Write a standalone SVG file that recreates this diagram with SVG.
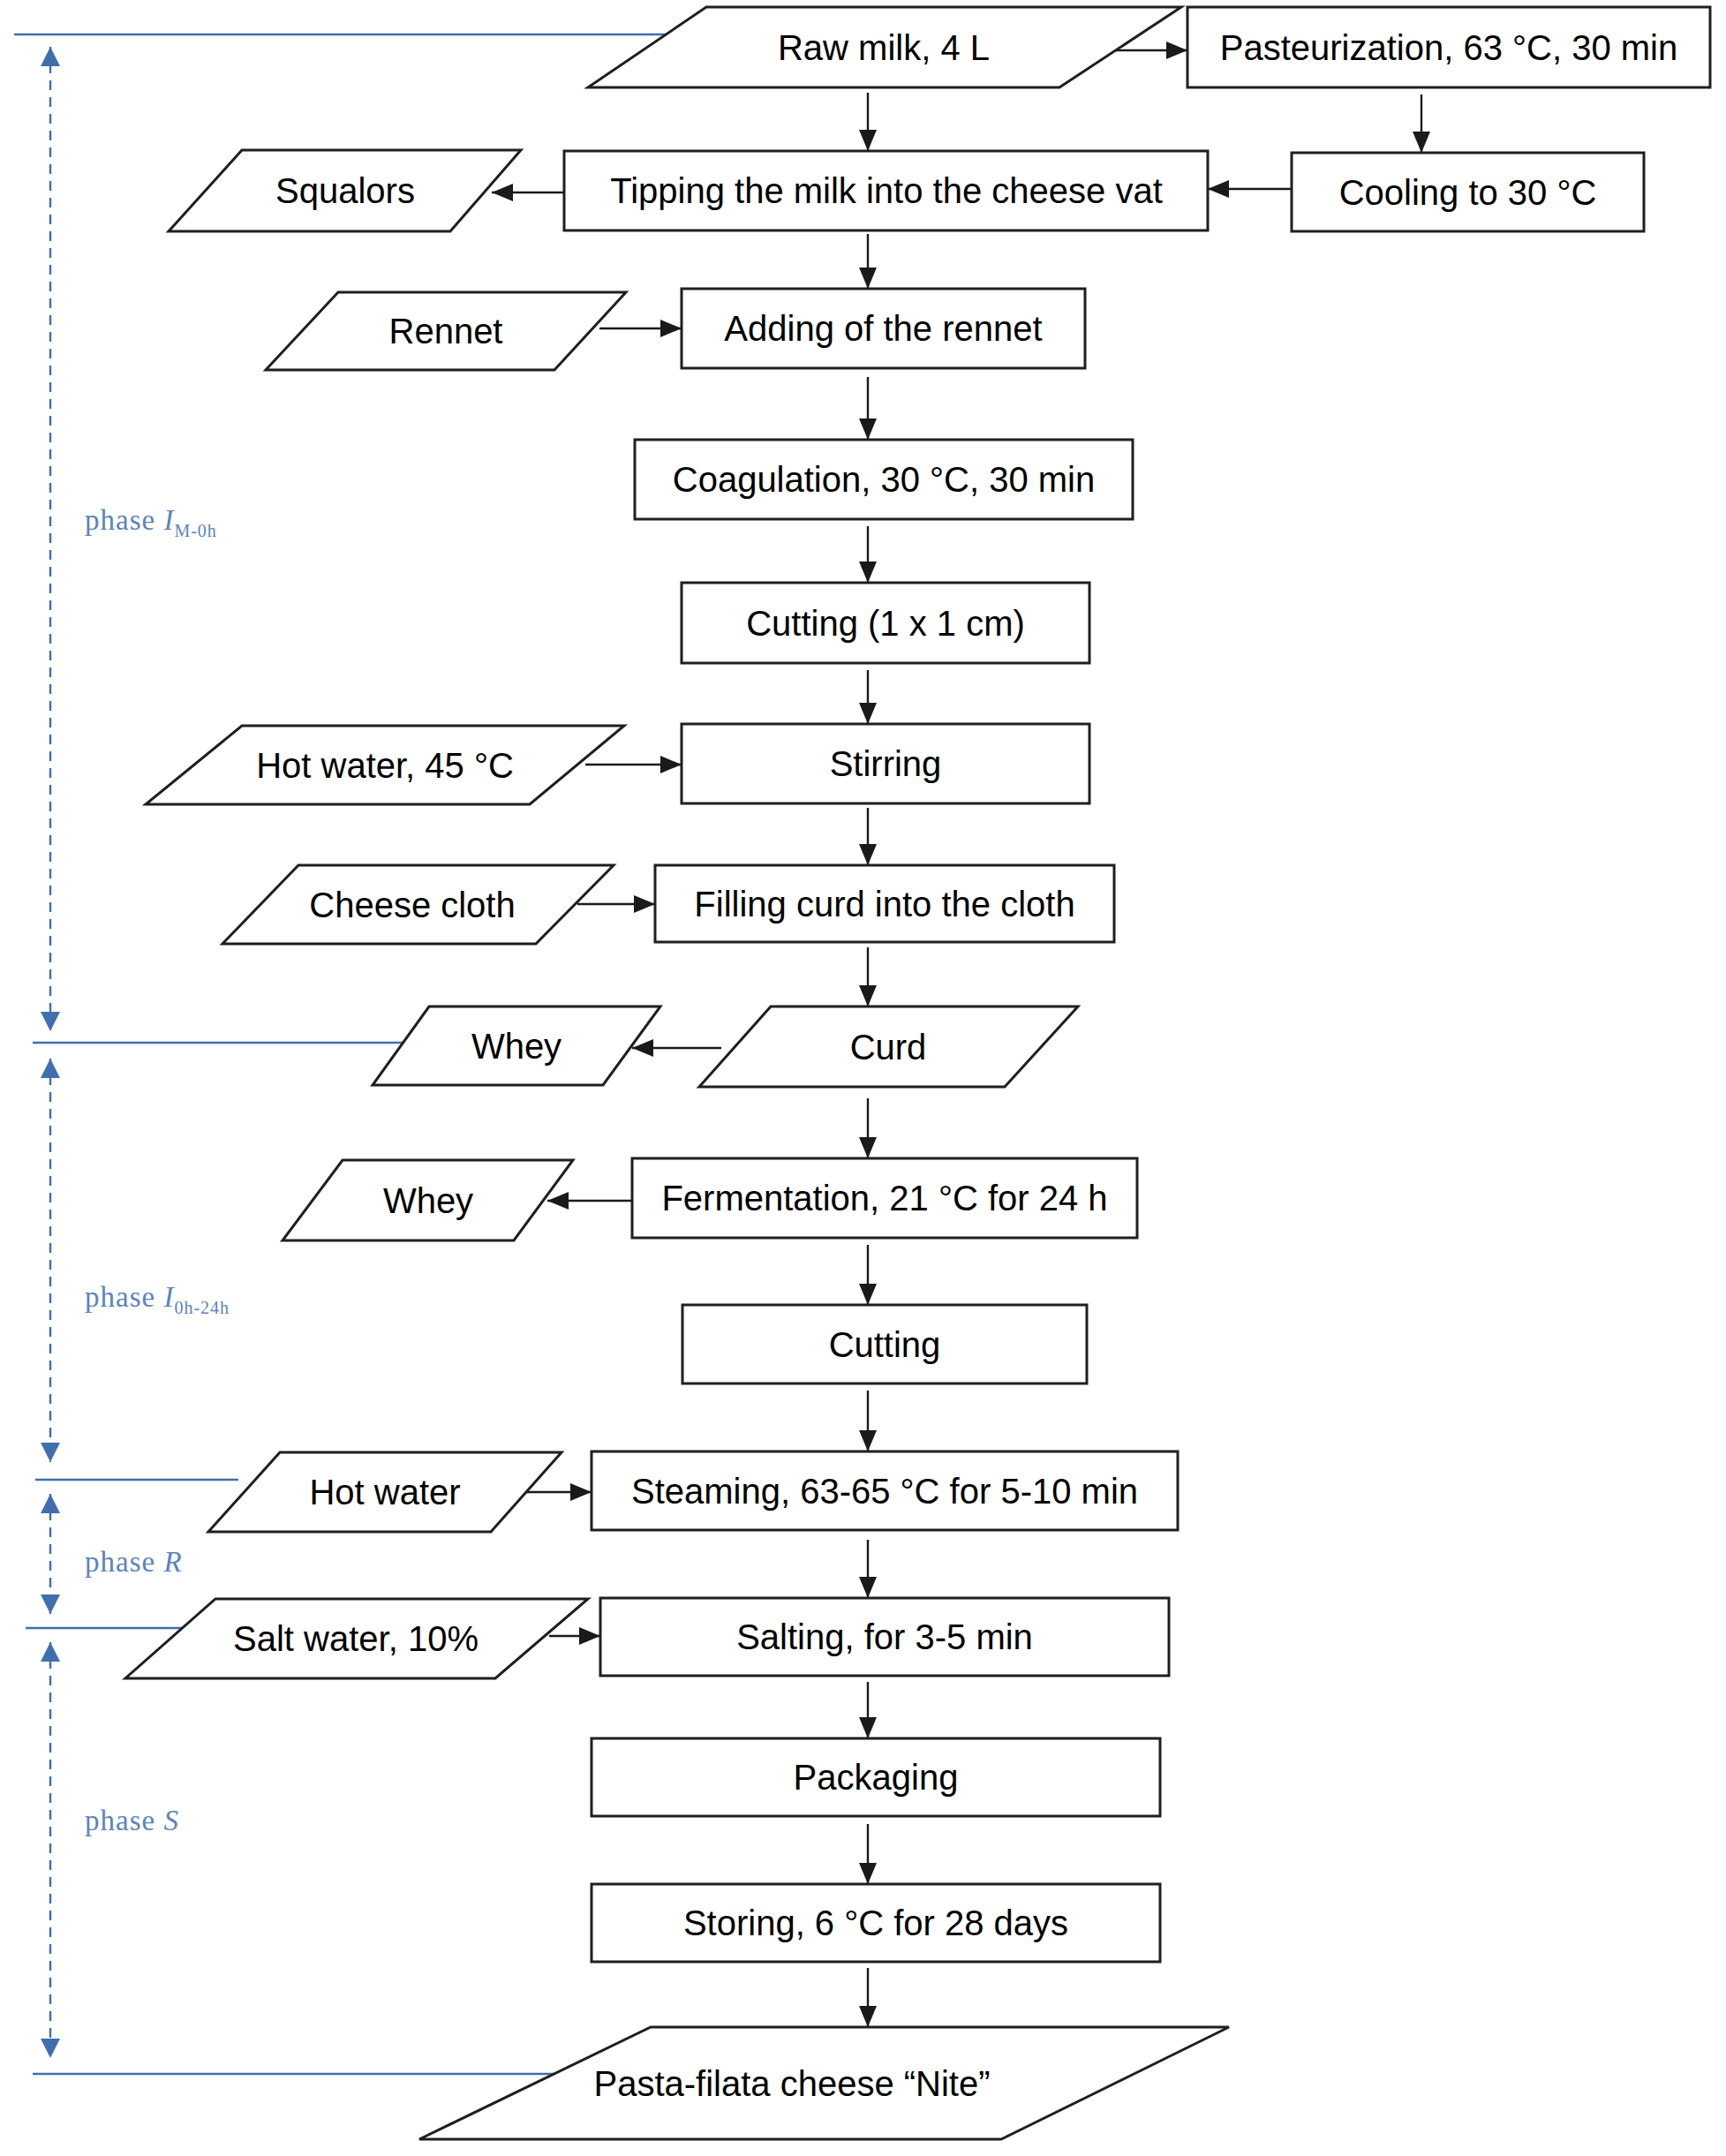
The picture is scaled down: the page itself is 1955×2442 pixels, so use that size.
<svg xmlns="http://www.w3.org/2000/svg" width="1955" height="2442" viewBox="0 0 1955 2442">
<style>
.box{fill:#fff;stroke:#1f1f1f;stroke-width:3}
.t{font-family:"Liberation Sans",Arial,sans-serif;font-size:40px;fill:#000;text-anchor:middle}
.c{stroke:#1a1a1a;stroke-width:2.4;fill:none;marker-end:url(#ah)}
.bl{stroke:#3f6fae;stroke-width:2.4;fill:none}
.bd{stroke:#3f6fae;stroke-width:2.4;fill:none;stroke-dasharray:11 8;marker-start:url(#bh);marker-end:url(#bh)}
.ph{font-family:"Liberation Serif","Times New Roman",serif;font-size:33px;fill:#5b84bd;letter-spacing:1px}
</style>
<defs>
<marker id="ah" markerUnits="userSpaceOnUse" markerWidth="24" markerHeight="20" refX="24" refY="10" orient="auto"><path d="M0,0 L24,10 L0,20 z" fill="#1a1a1a"/></marker>
<marker id="bh" markerUnits="userSpaceOnUse" markerWidth="22" markerHeight="22" refX="22" refY="11" orient="auto-start-reverse"><path d="M0,0 L22,11 L0,22 z" fill="#3f6fae"/></marker>
</defs>
<rect width="1955" height="2442" fill="#fff"/>

<g id="phases">
<line class="bl" x1="16" y1="39" x2="754" y2="39"/>
<line class="bl" x1="37" y1="1181" x2="457" y2="1181"/>
<line class="bl" x1="40" y1="1676" x2="270" y2="1676"/>
<line class="bl" x1="29" y1="1844" x2="207" y2="1844"/>
<line class="bl" x1="37" y1="2349" x2="628" y2="2349"/>
<line class="bd" x1="57" y1="53" x2="57" y2="1168"/>
<line class="bd" x1="57" y1="1199" x2="57" y2="1656"/>
<line class="bd" x1="57" y1="1692" x2="57" y2="1828"/>
<line class="bd" x1="57" y1="1860" x2="57" y2="2331"/>
<text class="ph" x="96" y="600">phase <tspan font-style="italic">I</tspan><tspan font-size="20" dy="8">M-0h</tspan></text>
<text class="ph" x="96" y="1480">phase <tspan font-style="italic">I</tspan><tspan font-size="20" dy="8">0h-24h</tspan></text>
<text class="ph" x="96" y="1780">phase <tspan font-style="italic">R</tspan></text>
<text class="ph" x="96" y="2073">phase <tspan font-style="italic">S</tspan></text>
</g>

<g id="connectors">
<line class="c" x1="1261" y1="57" x2="1345" y2="57"/>
<line class="c" x1="983" y1="105" x2="983" y2="171"/>
<line class="c" x1="1610" y1="107" x2="1610" y2="173"/>
<line class="c" x1="1463" y1="214" x2="1368" y2="214"/>
<line class="c" x1="639" y1="218" x2="557" y2="218"/>
<line class="c" x1="983" y1="265" x2="983" y2="327"/>
<line class="c" x1="679" y1="372" x2="772" y2="372"/>
<line class="c" x1="983" y1="427" x2="983" y2="498"/>
<line class="c" x1="983" y1="596" x2="983" y2="660"/>
<line class="c" x1="983" y1="759" x2="983" y2="820"/>
<line class="c" x1="663" y1="866" x2="772" y2="866"/>
<line class="c" x1="983" y1="915" x2="983" y2="980"/>
<line class="c" x1="654" y1="1024" x2="742" y2="1024"/>
<line class="c" x1="983" y1="1073" x2="983" y2="1140"/>
<line class="c" x1="817" y1="1187" x2="716" y2="1187"/>
<line class="c" x1="983" y1="1244" x2="983" y2="1312"/>
<line class="c" x1="716" y1="1360" x2="620" y2="1360"/>
<line class="c" x1="983" y1="1410" x2="983" y2="1478"/>
<line class="c" x1="983" y1="1575" x2="983" y2="1644"/>
<line class="c" x1="596" y1="1690" x2="670" y2="1690"/>
<line class="c" x1="983" y1="1744" x2="983" y2="1810"/>
<line class="c" x1="622" y1="1853" x2="680" y2="1853"/>
<line class="c" x1="983" y1="1905" x2="983" y2="1969"/>
<line class="c" x1="983" y1="2066" x2="983" y2="2134"/>
<line class="c" x1="983" y1="2229" x2="983" y2="2296"/>
</g>

<g id="raw-milk"><polygon class="box" points="800,8 1338,8 1200,99 666,99"/><text class="t" x="1001" y="67.5">Raw milk, 4 L</text></g>
<g id="pasteurization"><rect class="box" x="1345" y="8" width="592" height="91"/><text class="t" x="1641" y="67.5">Pasteurization, 63 °C, 30 min</text></g>
<g id="tipping"><rect class="box" x="639" y="171" width="729" height="90"/><text class="t" x="1004" y="230">Tipping the milk into the cheese vat</text></g>
<g id="cooling"><rect class="box" x="1463" y="173" width="399" height="89"/><text class="t" x="1662.5" y="231.5">Cooling to 30 °C</text></g>
<g id="squalors"><polygon class="box" points="274,170 590,170 510,262 191,262"/><text class="t" x="391" y="230">Squalors</text></g>
<g id="rennet"><polygon class="box" points="383,331 709,331 628,419 301,419"/><text class="t" x="505" y="389">Rennet</text></g>
<g id="adding-rennet"><rect class="box" x="772" y="327" width="457" height="90"/><text class="t" x="1000.5" y="386">Adding of the rennet</text></g>
<g id="coagulation"><rect class="box" x="719" y="498" width="564" height="90"/><text class="t" x="1001" y="557">Coagulation, 30 °C, 30 min</text></g>
<g id="cutting-1"><rect class="box" x="772" y="660" width="462" height="91"/><text class="t" x="1003" y="719.5">Cutting (1 x 1 cm)</text></g>
<g id="hot-water-45"><polygon class="box" points="274,822 707,822 600,911 165,911"/><text class="t" x="436" y="880.5">Hot water, 45 °C</text></g>
<g id="stirring"><rect class="box" x="772" y="820" width="462" height="90"/><text class="t" x="1003" y="879">Stirring</text></g>
<g id="cheese-cloth"><polygon class="box" points="338,980 695,980 607,1069 252,1069"/><text class="t" x="467" y="1038.5">Cheese cloth</text></g>
<g id="filling"><rect class="box" x="742" y="980" width="520" height="87"/><text class="t" x="1002" y="1037.5">Filling curd into the cloth</text></g>
<g id="curd"><polygon class="box" points="873,1140 1221,1140 1138,1231 792,1231"/><text class="t" x="1006" y="1199.5">Curd</text></g>
<g id="whey-1"><polygon class="box" points="486,1140 748,1140 683,1229 422,1229"/><text class="t" x="585" y="1198.5">Whey</text></g>
<g id="fermentation"><rect class="box" x="716" y="1312" width="572" height="90"/><text class="t" x="1002" y="1371">Fermentation, 21 °C for 24 h</text></g>
<g id="whey-2"><polygon class="box" points="388,1314 649,1314 582,1405 320,1405"/><text class="t" x="485" y="1373.5">Whey</text></g>
<g id="cutting-2"><rect class="box" x="773" y="1478" width="458" height="89"/><text class="t" x="1002" y="1536.5">Cutting</text></g>
<g id="steaming"><rect class="box" x="670" y="1644" width="664" height="89"/><text class="t" x="1002" y="1702.5">Steaming, 63-65 °C for 5-10 min</text></g>
<g id="hot-water"><polygon class="box" points="317,1645 636,1645 556,1735 236,1735"/><text class="t" x="436" y="1704">Hot water</text></g>
<g id="salting"><rect class="box" x="680" y="1810" width="644" height="88"/><text class="t" x="1002" y="1868">Salting, for 3-5 min</text></g>
<g id="salt-water"><polygon class="box" points="244,1811 666,1811 561,1901 142,1901"/><text class="t" x="403" y="1870">Salt water, 10%</text></g>
<g id="packaging"><rect class="box" x="670" y="1969" width="644" height="88"/><text class="t" x="992" y="2027">Packaging</text></g>
<g id="storing"><rect class="box" x="670" y="2134" width="644" height="88"/><text class="t" x="992" y="2192">Storing, 6 °C for 28 days</text></g>
<g id="pasta-filata"><polygon class="box" points="737,2296 1392,2296 1134,2423 475,2423"/><text class="t" x="897" y="2373.5">Pasta-filata cheese “Nite”</text></g>
</svg>
